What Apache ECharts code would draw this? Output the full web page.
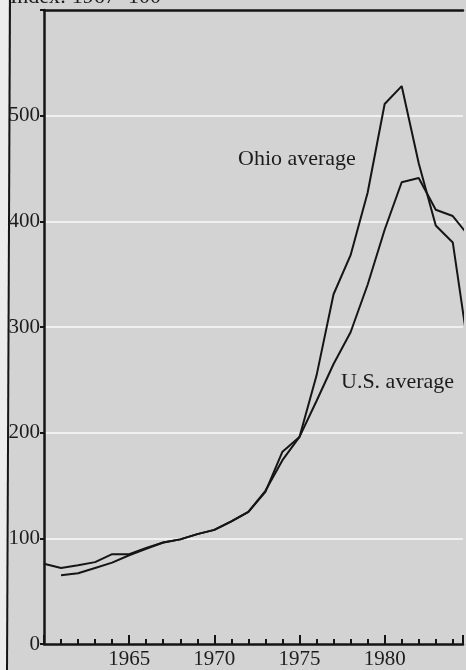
<!DOCTYPE html>
<html lang="en">
<head>
  <meta charset="UTF-8">
  <title>Farmland value index</title>
  <style>
    html, body {margin: 0; padding: 0; background: #d3d3d3;}
    #chart {width: 466px; height: 670px;}
  </style>
</head>
<body>
  <div id="chart"></div>

  <script src="https://cdn.jsdelivr.net/npm/echarts@6/dist/echarts.min.js"></script>
  <script>
    // index: 1967 = 100
    var years = [1960, 1961, 1962, 1963, 1964, 1965, 1966, 1967, 1968, 1969, 1970, 1971, 1972,
                 1973, 1974, 1975, 1976, 1977, 1978, 1979, 1980, 1981, 1982, 1983, 1984, 1985];
    var ohioIndex = [76, 72, 74.5, 77.5, 85, 85, 91, 96, 99, 104, 108, 116, 125,
                     144, 182, 196, 254, 331, 368, 427, 511, 528, 455, 396, 380, 270];
    var usIndex = [null, 65, 67, 72, 77, 84, 90, 96, 99, 104, 108, 116, 125,
                   145, 174, 196, 230, 265, 295, 340, 392, 437, 441, 411, 405, 385];
    var yTickLabels = [0, 100, 200, 300, 400, 500];
    var xTickLabels = [1965, 1970, 1975, 1980];

    var serif = 'Liberation Serif';
    var ink = '#151515';

    function pairs(vals) {
      return years.map(function (y, i) { return [y, vals[i]]; });
    }

    var chart = echarts.init(document.getElementById('chart'));

    var option = {
      backgroundColor: '#d3d3d3',
      animation: false,
      grid: {left: 44, right: 0, top: 10, bottom: 26},
      xAxis: [{
        type: 'value',
        min: 1960,
        max: 1984.6,
        interval: 5,
        axisLine: {lineStyle: {color: ink, width: 2.5}},
        axisTick: {inside: true, length: 9, lineStyle: {color: ink, width: 2}},
        minorTick: {show: true, splitNumber: 5, length: 5, lineStyle: {color: ink, width: 2}},
        axisLabel: {
          fontFamily: serif, fontSize: 21, color: '#1c1c1c', margin: 5,
          showMinLabel: true, showMaxLabel: true,
          formatter: function (v) { return xTickLabels.indexOf(v) >= 0 ? String(v) : ''; }
        },
        splitLine: {show: false}
      }, {
        // top frame line
        type: 'value',
        position: 'top',
        min: 1960,
        max: 1984.6,
        axisLine: {lineStyle: {color: ink, width: 2.5}},
        axisTick: {show: false},
        axisLabel: {show: false},
        splitLine: {show: false}
      }],
      yAxis: {
        type: 'value',
        min: 0,
        max: 600,
        interval: 100,
        axisLine: {show: true, lineStyle: {color: ink, width: 2.5}},
        axisTick: {show: true, length: 4, lineStyle: {color: ink, width: 2}},
        axisLabel: {
          fontFamily: serif, fontSize: 21, color: '#1c1c1c', margin: 4,
          formatter: function (v) { return yTickLabels.indexOf(v) >= 0 ? String(v) : ''; }
        },
        splitLine: {show: true, showMinLine: false, showMaxLine: false,
                    lineStyle: {color: '#f0f0f0', width: 2}}
      },
      series: [{
        name: 'Ohio average',
        type: 'line',
        data: pairs(ohioIndex),
        showSymbol: false,
        lineStyle: {color: ink, width: 2}
      }, {
        name: 'U.S. average',
        type: 'line',
        data: pairs(usIndex),
        showSymbol: false,
        lineStyle: {color: ink, width: 2}
      }],
      graphic: [
        {type: 'rect', left: 0, top: 0, shape: {width: 8, height: 670}, style: {fill: '#ececec'}},
        {type: 'line', shape: {x1: 10, y1: 0, x2: 7, y2: 670}, style: {stroke: ink, lineWidth: 2}},
        {type: 'text', x: 10, y: 8.5, style: {text: 'Index: 1967=100', font: '22px "Liberation Serif"', fill: '#1c1c1c', verticalAlign: 'bottom'}},
        {type: 'text', x: 238, y: 170.5, style: {text: 'Ohio average', font: '22px "Liberation Serif"', fill: '#1c1c1c', verticalAlign: 'bottom'}},
        {type: 'text', x: 341, y: 393.5, style: {text: 'U.S. average', font: '22px "Liberation Serif"', fill: '#1c1c1c', verticalAlign: 'bottom'}}
      ]
    };

    chart.setOption(option);
  </script>
</body>
</html>
